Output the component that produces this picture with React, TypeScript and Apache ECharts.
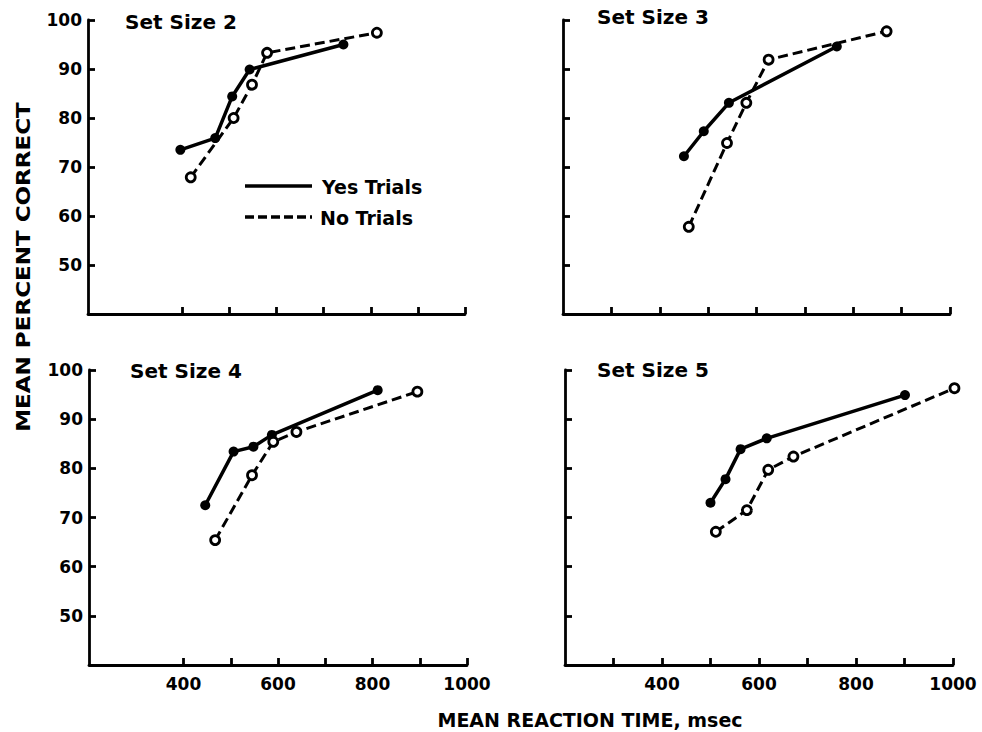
import React, { useEffect, useRef } from "react";
import * as echarts from "echarts";

// ---- data (x = mean reaction time in msec, y = mean percent correct) ----
const panelTitles = ["Set Size 2", "Set Size 3", "Set Size 4", "Set Size 5"];
const legendNames = ["Yes Trials", "No Trials"];

const yesSet2 = [[396, 73.5], [470, 75.9], [506, 84.4], [543, 89.9], [742, 95.0]];
const noSet2 = [[418, 67.9], [509, 80.0], [548, 86.8], [580, 93.3], [813, 97.4]];
const yesSet3 = [[450, 72.2], [491, 77.3], [543, 83.1], [766, 94.6]];
const noSet3 = [[460, 57.8], [539, 74.9], [579, 83.1], [625, 91.9], [869, 97.7]];
const yesSet4 = [[446, 72.5], [506, 83.4], [548, 84.4], [587, 86.8], [811, 95.9]];
const noSet4 = [[467, 65.4], [545, 78.6], [590, 85.4], [639, 87.4], [895, 95.6]];
const yesSet5 = [[500, 73.0], [531, 77.8], [562, 83.9], [616, 86.1], [901, 94.9]];
const noSet5 = [[511, 67.1], [575, 71.5], [619, 79.7], [671, 82.4], [1003, 96.3]];

const yesData = [yesSet2, yesSet3, yesSet4, yesSet5];
const noData = [noSet2, noSet3, noSet4, noSet5];

const yTickValues = [40, 50, 60, 70, 80, 90, 100];
const yLabelValues = [50, 60, 70, 80, 90, 100];
const xTicksLeft = [400, 500, 600, 700, 800, 900, 1000];
const xTicksRight = [300, 400, 500, 600, 700, 800, 900, 1000];
const xLabelValues = [400, 600, 800, 1000];

const FONT = "DejaVu Sans";

export default function App() {
  const ref = useRef<HTMLDivElement>(null);

  useEffect(() => {
    if (!ref.current) return;
    const chart = echarts.init(ref.current, null, { renderer: "svg" });

    const grids = [
      { left: 88, top: 20, width: 377, height: 294 },
      { left: 563, top: 20, width: 387, height: 294 },
      { left: 89, top: 370, width: 378, height: 295 },
      { left: 565, top: 370, width: 388, height: 295 },
    ];

    const axisLineStyle = { color: "#000", width: 2.8 };

    const xAxes = grids.map((_, i) => {
      const isLeft = i % 2 === 0;
      const isBottom = i >= 2;
      return {
        gridIndex: i,
        type: "value",
        min: 200,
        max: 1000,
        interval: 100,
        axisLine: { show: true, onZero: false, lineStyle: axisLineStyle },
        axisTick: {
          show: true,
          inside: true,
          length: 7,
          lineStyle: axisLineStyle,
          customValues: isLeft ? xTicksLeft : xTicksRight,
        },
        axisLabel: {
          show: isBottom,
          customValues: xLabelValues,
          formatter: (v: number) => (xLabelValues.includes(v) ? String(v) : ""),
          color: "#000",
          fontFamily: FONT,
          fontWeight: "bold",
          fontSize: 17,
          margin: 10,
        },
        splitLine: { show: false },
      };
    });

    const yAxes = grids.map((_, i) => {
      const isLeft = i % 2 === 0;
      return {
        gridIndex: i,
        type: "value",
        min: 40,
        max: 100,
        interval: 10,
        axisLine: { show: true, onZero: false, lineStyle: axisLineStyle },
        axisTick: {
          show: true,
          inside: true,
          length: 7,
          lineStyle: axisLineStyle,
          customValues: yTickValues,
        },
        axisLabel: {
          show: isLeft,
          customValues: yLabelValues,
          formatter: (v: number) => (yLabelValues.includes(v) ? String(v) : ""),
          color: "#000",
          fontFamily: FONT,
          fontWeight: "bold",
          fontSize: 17,
          margin: 6,
        },
        splitLine: { show: false },
      };
    });

    const series: any[] = [];
    for (let i = 0; i < 4; i++) {
      series.push({
        name: legendNames[0],
        type: "line",
        xAxisIndex: i,
        yAxisIndex: i,
        data: yesData[i],
        clip: false,
        symbol: "circle",
        symbolSize: 10,
        itemStyle: { color: "#000" },
        lineStyle: { color: "#000", width: 3.5, type: "solid" },
        z: 3,
      });
      series.push({
        name: legendNames[1],
        type: "line",
        xAxisIndex: i,
        yAxisIndex: i,
        data: noData[i],
        clip: false,
        symbol: "circle",
        symbolSize: 9,
        itemStyle: { color: "#fff", borderColor: "#000", borderWidth: 2.8 },
        lineStyle: { color: "#000", width: 3, type: [10, 5] },
        z: 4,
      });
    }

    const titlePos = [
      [125, 22],
      [597, 17],
      [130, 371],
      [597, 370],
    ];
    const titleFont = `bold 20px "${FONT}"`;

    const graphic: any[] = titlePos.map((p, i) => ({
      type: "text",
      x: p[0],
      y: p[1],
      style: {
        text: panelTitles[i],
        font: titleFont,
        fill: "#000",
        align: "left",
        verticalAlign: "middle",
      },
    }));

    // legend inside panel 1
    graphic.push(
      {
        type: "line",
        shape: { x1: 245, y1: 186, x2: 312, y2: 186 },
        style: { stroke: "#000", lineWidth: 3.5 },
      },
      {
        type: "line",
        shape: { x1: 245, y1: 217, x2: 312, y2: 217 },
        style: { stroke: "#000", lineWidth: 3.5, lineDash: [9, 4] },
      },
      {
        type: "text",
        x: 322,
        y: 187,
        style: {
          text: legendNames[0],
          font: `bold 19px "${FONT}"`,
          fill: "#000",
          align: "left",
          verticalAlign: "middle",
        },
      },
      {
        type: "text",
        x: 320,
        y: 218,
        style: {
          text: legendNames[1],
          font: `bold 19px "${FONT}"`,
          fill: "#000",
          align: "left",
          verticalAlign: "middle",
        },
      }
    );

    // shared axis titles
    graphic.push(
      {
        type: "text",
        x: 23,
        y: 267,
        rotation: Math.PI / 2,
        scaleX: 1.15,
        style: {
          text: "MEAN PERCENT CORRECT",
          font: `bold 20px "${FONT}"`,
          fill: "#000",
          align: "center",
          verticalAlign: "middle",
        },
      },
      {
        type: "text",
        x: 590,
        y: 720,
        style: {
          text: "MEAN REACTION TIME, msec",
          font: `bold 19px "${FONT}"`,
          fill: "#000",
          align: "center",
          verticalAlign: "middle",
        },
      }
    );

    chart.setOption({
      animation: false,
      backgroundColor: "#fff",
      grid: grids.map((g) => ({ ...g, containLabel: false, outerBoundsMode: "none" })),
      xAxis: xAxes,
      yAxis: yAxes,
      series,
      graphic,
    });

    return () => chart.dispose();
  }, []);

  return (
    <div
      ref={ref}
      style={{ position: "fixed", left: 0, top: 0, width: 982, height: 732, background: "#fff" }}
    />
  );
}
